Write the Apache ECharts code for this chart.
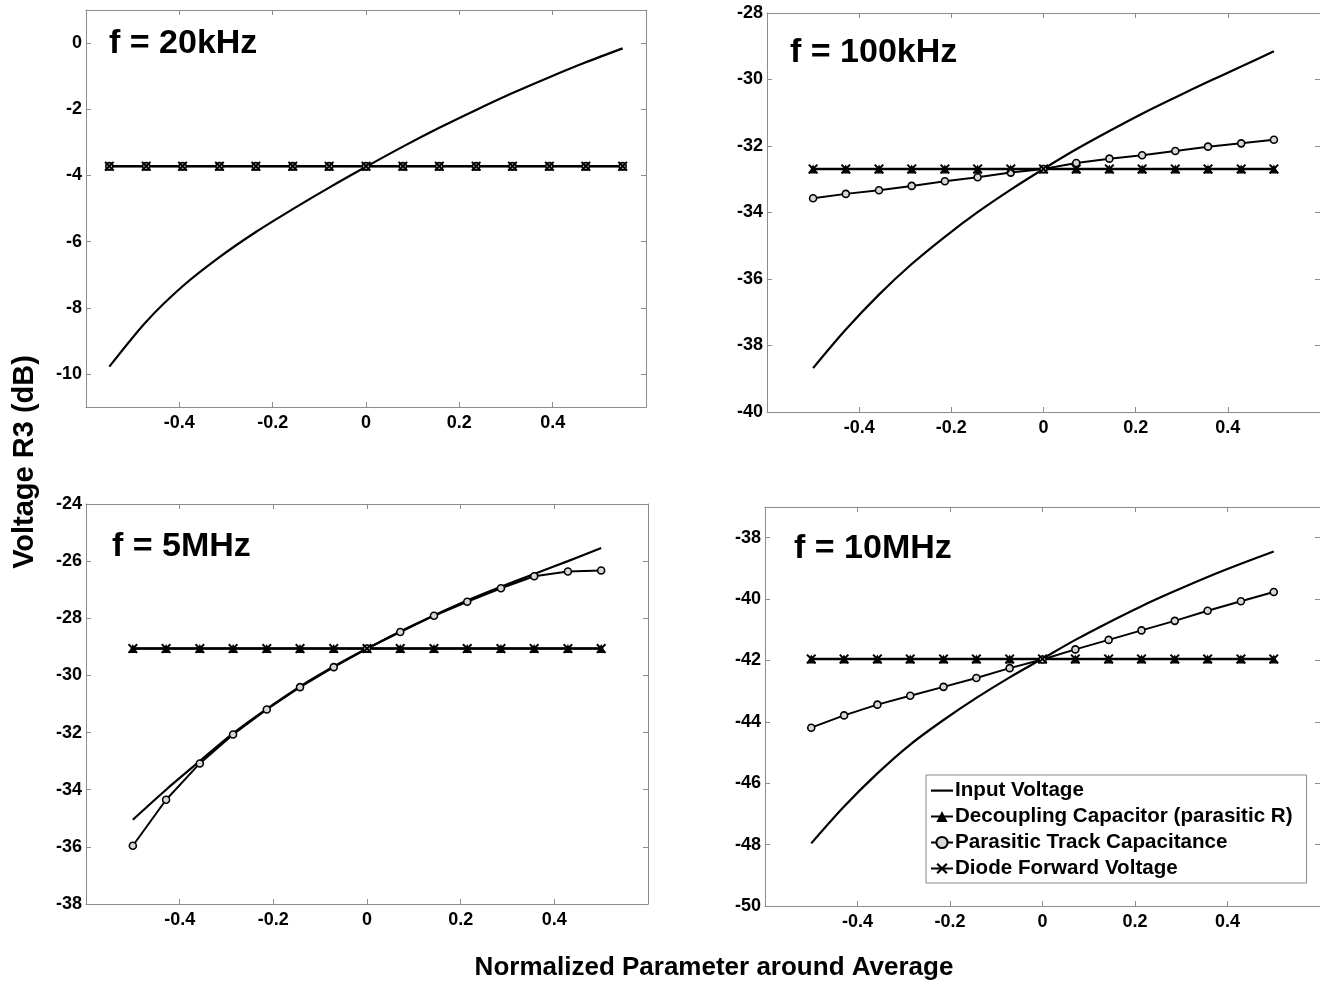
<!DOCTYPE html>
<html>
<head>
<meta charset="utf-8">
<script src="https://cdn.jsdelivr.net/npm/echarts@6/dist/echarts.min.js"></script>
<style>
html,body{margin:0;padding:0;background:#fff;}
#c{width:1320px;height:983px;}
</style>
</head>
<body>
<div id="c"></div>
<script>
// ---- data ----
const xWide = [-0.55, -0.471, -0.393, -0.314, -0.236, -0.157, -0.079, 0, 0.079, 0.157, 0.236, 0.314, 0.393, 0.471, 0.55];
const xNarrow = [-0.5, -0.429, -0.357, -0.286, -0.214, -0.143, -0.071, 0, 0.071, 0.143, 0.214, 0.286, 0.357, 0.429, 0.5];

const seriesNames = ['Input Voltage', 'Decoupling Capacitor (parasitic R)', 'Parasitic Track Capacitance', 'Diode Forward Voltage'];
const panelTitles = ['f = 20kHz', 'f = 100kHz', 'f = 5MHz', 'f = 10MHz'];

// f = 20kHz
const input20k = [-9.78, -8.42, -7.35, -6.47, -5.71, -5.02, -4.37, -3.74, -3.13, -2.56, -2.02, -1.51, -1.03, -0.58, -0.16];
const decap20k = [-3.72, -3.72, -3.72, -3.72, -3.72, -3.72, -3.72, -3.72, -3.72, -3.72, -3.72, -3.72, -3.72, -3.72, -3.72];
const track20k = [-3.72, -3.72, -3.72, -3.72, -3.72, -3.72, -3.72, -3.72, -3.72, -3.72, -3.72, -3.72, -3.72, -3.72, -3.72];
const diode20k = [-3.72, -3.72, -3.72, -3.72, -3.72, -3.72, -3.72, -3.72, -3.72, -3.72, -3.72, -3.72, -3.72, -3.72, -3.72];

// f = 100kHz
const input100k = [-38.68, -37.52, -36.47, -35.55, -34.73, -33.99, -33.31, -32.69, -32.10, -31.55, -31.03, -30.54, -30.07, -29.61, -29.15];
const decap100k = [-32.69, -32.69, -32.69, -32.69, -32.69, -32.69, -32.69, -32.69, -32.69, -32.69, -32.69, -32.69, -32.69, -32.69, -32.69];
const track100k = [-33.57, -33.44, -33.33, -33.2, -33.06, -32.94, -32.8, -32.69, -32.51, -32.38, -32.28, -32.15, -32.02, -31.92, -31.81];
const diode100k = [-32.69, -32.69, -32.69, -32.69, -32.69, -32.69, -32.69, -32.69, -32.69, -32.69, -32.69, -32.69, -32.69, -32.69, -32.69];

// f = 5MHz
const input5M = [-35.05, -34.0, -33.0, -32.03, -31.17, -30.39, -29.69, -29.06, -28.46, -27.9, -27.38, -26.9, -26.45, -26.0, -25.54];
const decap5M = [-29.06, -29.06, -29.06, -29.06, -29.06, -29.06, -29.06, -29.06, -29.06, -29.06, -29.06, -29.06, -29.06, -29.06, -29.06];
const track5M = [-35.96, -34.35, -33.08, -32.07, -31.19, -30.41, -29.71, -29.06, -28.48, -27.91, -27.42, -26.95, -26.53, -26.36, -26.33];
const diode5M = [-29.06, -29.06, -29.06, -29.06, -29.06, -29.06, -29.06, -29.06, -29.06, -29.06, -29.06, -29.06, -29.06, -29.06, -29.06];

// f = 10MHz
const input10M = [-47.96, -46.76, -45.68, -44.74, -43.94, -43.22, -42.55, -41.94, -41.33, -40.76, -40.23, -39.74, -39.28, -38.85, -38.45];
const decap10M = [-41.95, -41.95, -41.95, -41.95, -41.95, -41.95, -41.95, -41.95, -41.95, -41.95, -41.95, -41.95, -41.95, -41.95, -41.95];
const track10M = [-44.19, -43.79, -43.44, -43.15, -42.86, -42.57, -42.25, -41.97, -41.64, -41.33, -41.02, -40.71, -40.38, -40.07, -39.77];
const diode10M = [-41.95, -41.95, -41.95, -41.95, -41.95, -41.95, -41.95, -41.95, -41.95, -41.95, -41.95, -41.95, -41.95, -41.95, -41.95];

// axis ticks
const xTicks = [-0.4, -0.2, 0, 0.2, 0.4];
const yTicks20k = [-10, -8, -6, -4, -2, 0];
const yTicks100k = [-40, -38, -36, -34, -32, -30, -28];
const yTicks5M = [-38, -36, -34, -32, -30, -28, -26, -24];
const yTicks10M = [-50, -48, -46, -44, -42, -40, -38];
const yRanges = [[-11, 1], [-40, -28], [-38, -24], [-50, -37]];

// ---- layout / style ----
const FONT = '"Liberation Sans", Arial, Helvetica, sans-serif';
const grids = [
  {left: 86, top: 10, width: 560, height: 397},
  {left: 767, top: 13, width: 562, height: 399},
  {left: 86, top: 504, width: 562, height: 400},
  {left: 765, top: 507, width: 562, height: 399}
];
const titlePos = [[109, 43.5], [790, 53], [112, 547], [794, 548.5]];

const panels = [
  {x: xWide, s: [input20k, decap20k, track20k, diode20k], yT: yTicks20k},
  {x: xNarrow, s: [input100k, decap100k, track100k, diode100k], yT: yTicks100k},
  {x: xNarrow, s: [input5M, decap5M, track5M, diode5M], yT: yTicks5M},
  {x: xNarrow, s: [input10M, decap10M, track10M, diode10M], yT: yTicks10M}
];

const AX = '#8c8c8c';
const xMarker = 'path://M0,1.4L1.4,0L5,3.6L8.6,0L10,1.4L6.4,5L10,8.6L8.6,10L5,6.4L1.4,10L0,8.6L3.6,5Z';
const lineIcon = 'path://M0,0L0,0M0,6L22,6L22,8.2L0,8.2ZM22,14L22,14';

const xAxes = [], yAxes = [], series = [], graphics = [];
panels.forEach((p, i) => {
  const base = {
    gridIndex: i, type: 'value', min: -0.6, max: 0.6,
    axisLine: {show: true, onZero: false, lineStyle: {color: AX, width: 1}},
    axisTick: {show: true, inside: true, length: 5, customValues: xTicks, lineStyle: {color: AX}},
    splitLine: {show: false}
  };
  xAxes.push(Object.assign({}, base, {
    position: 'bottom',
    axisLabel: {show: true, customValues: xTicks, margin: 7, color: '#000', fontSize: 18, fontWeight: 'bold', fontFamily: FONT}
  }));
  xAxes.push(Object.assign({}, base, {position: 'top', axisLabel: {show: false}}));
  const ybase = {
    gridIndex: i, type: 'value', min: yRanges[i][0], max: yRanges[i][1],
    axisLine: {show: true, onZero: false, lineStyle: {color: AX, width: 1}},
    axisTick: {show: true, inside: true, length: 5, customValues: p.yT, lineStyle: {color: AX}},
    splitLine: {show: false}
  };
  yAxes.push(Object.assign({}, ybase, {
    position: 'left',
    axisLabel: {show: true, customValues: p.yT, margin: 4, color: '#000', fontSize: 18, fontWeight: 'bold', fontFamily: FONT}
  }));
  yAxes.push(Object.assign({}, ybase, {position: 'right', axisLabel: {show: false}}));

  const xa = i * 2, ya = i * 2;
  const mk = arr => arr.map((v, k) => [p.x[k], v]);
  series.push({
    name: seriesNames[0], type: 'line', xAxisIndex: xa, yAxisIndex: ya,
    data: mk(p.s[0]), symbol: 'none', smooth: 0.3,
    lineStyle: {color: '#000', width: 2.2}, itemStyle: {color: '#000'}
  });
  series.push({
    name: seriesNames[1], type: 'line', xAxisIndex: xa, yAxisIndex: ya,
    data: mk(p.s[1]), symbol: 'triangle', symbolSize: 9,
    lineStyle: {color: '#000', width: 2}, itemStyle: {color: '#000'}
  });
  series.push({
    name: seriesNames[2], type: 'line', xAxisIndex: xa, yAxisIndex: ya,
    data: mk(p.s[2]), symbol: 'circle', symbolSize: 7, showAllSymbol: true,
    lineStyle: {color: '#000', width: 2}, itemStyle: {color: '#d8d8d8', borderColor: '#000', borderWidth: 1.6}
  });
  series.push({
    name: seriesNames[3], type: 'line', xAxisIndex: xa, yAxisIndex: ya,
    data: mk(p.s[3]), symbol: xMarker, symbolSize: 10,
    lineStyle: {color: '#000', width: 2.4}, itemStyle: {color: '#000'}
  });

  graphics.push({
    type: 'text', x: titlePos[i][0], y: titlePos[i][1], z: 10,
    style: {text: panelTitles[i], fill: '#000', font: 'bold 34px ' + FONT, align: 'left', verticalAlign: 'middle'}
  });
});

graphics.push({
  type: 'text', x: 25, y: 462, rotation: Math.PI / 2,
  style: {text: 'Voltage R3 (dB)', fill: '#000', font: 'bold 29px ' + FONT, align: 'center', verticalAlign: 'middle'}
});
graphics.push({
  type: 'text', x: 714, y: 968,
  style: {text: 'Normalized Parameter around Average', fill: '#000', font: 'bold 26px ' + FONT, align: 'center', verticalAlign: 'middle'}
});

const chart = echarts.init(document.getElementById('c'), null, {renderer: 'canvas'});
chart.setOption({
  backgroundColor: '#fff',
  animation: false,
  grid: grids,
  xAxis: xAxes,
  yAxis: yAxes,
  series: series,
  legend: {
    data: [
      {name: seriesNames[0], icon: lineIcon, itemStyle: {color: '#000'}},
      {name: seriesNames[1]},
      {name: seriesNames[2]},
      {name: seriesNames[3]}
    ],
    orient: 'vertical',
    left: 926, top: 775,
    padding: [5, 14, 4, 4],
    itemWidth: 22, itemHeight: 14, itemGap: 5,
    backgroundColor: '#fff',
    borderColor: '#888', borderWidth: 1,
    selectedMode: false,
    textStyle: {color: '#000', fontSize: 20.6, fontWeight: 'bold', fontFamily: FONT, lineHeight: 20, padding: [0, 0, 0, -3]}
  },
  graphic: graphics
});
</script>
</body>
</html>
